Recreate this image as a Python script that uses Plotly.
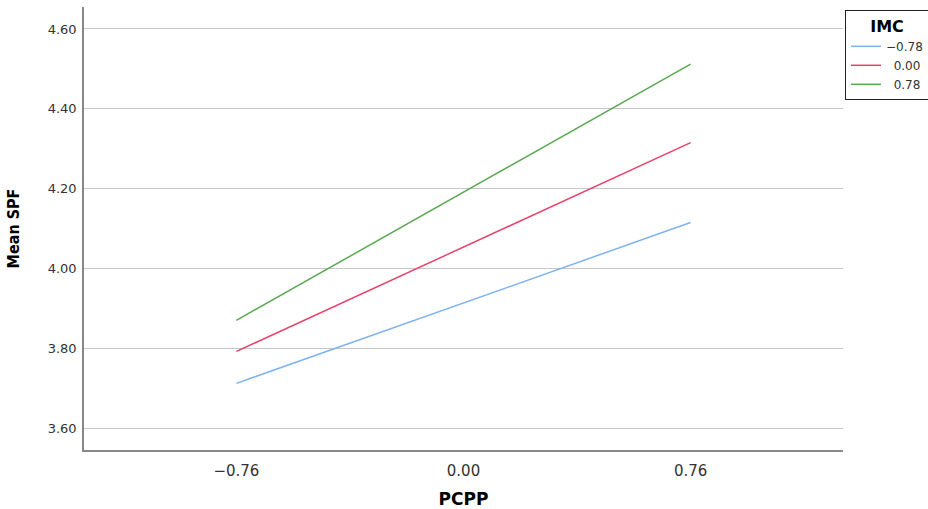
import plotly.graph_objects as go

pcpp = [-0.76, 0.76]
imc_labels = ["\u22120.78", "\u20070.00", "\u20070.78"]
spf_low = [3.712, 4.115]
spf_mid = [3.792, 4.315]
spf_high = [3.870, 4.512]
colors = ["#7eb3f0", "#e8416a", "#5aa852"]
x_ticks = [-0.76, 0.0, 0.76]
x_ticktext = ["\u22120.76", "0.00", "0.76"]
y_ticks = [3.6, 3.8, 4.0, 4.2, 4.4, 4.6]

series = [spf_low, spf_mid, spf_high]

fig = go.Figure()
for lab, vals, col in zip(imc_labels, series, colors):
    fig.add_trace(go.Scatter(x=pcpp, y=vals, mode="lines", name=lab,
                             line=dict(color=col, width=1.5)))

FONT = "DejaVu Sans, Liberation Sans, Arial, sans-serif"

fig.update_layout(
    width=928, height=509,
    margin=dict(l=84, r=85, t=7, b=59, autoexpand=False),
    plot_bgcolor="white", paper_bgcolor="white",
    showlegend=True,
    legend=dict(
        x=(845 - 84) / 759, y=(450 - 10) / 443, xanchor="left", yanchor="top",
        bordercolor="#222222", borderwidth=1,
        font=dict(family=FONT, size=12, color="#333333"),
        title=dict(text="<b>IMC</b>", side="top center",
                   font=dict(family=FONT, size=16, color="#000000")),
        tracegroupgap=0, itemwidth=30,
    ),
    xaxis=dict(
        range=[-1.27, 1.27],
        tickvals=x_ticks, ticktext=x_ticktext,
        showgrid=False, zeroline=False,
        showline=True, linecolor="#888888", linewidth=1.5,
        ticks="outside", ticklen=6, tickcolor="rgba(0,0,0,0)",
        tickfont=dict(family=FONT, size=15, color="#333333"),
        title=dict(text="<b>PCPP</b>", font=dict(family=FONT, size=17, color="#000000"), standoff=14),
    ),
    yaxis=dict(
        range=[3.545, 4.655],
        tickvals=y_ticks,
        tickformat=".2f",
        showgrid=True, gridcolor="#c8c8c8", gridwidth=1.2,
        zeroline=False,
        showline=True, linecolor="#888888", linewidth=1.5,
        ticks="outside", ticklen=3, tickcolor="rgba(0,0,0,0)",
        tickfont=dict(family=FONT, size=13, color="#333333"),
        title=dict(text="<b>Mean SPF</b>",
                   font=dict(family="DejaVu Sans Condensed, Liberation Sans Narrow, Liberation Sans, sans-serif",
                             size=16, color="#000000"),
                   standoff=24),
    ),
)

fig.write_html("out.html", config={"displayModeBar": False},
               post_script="document.body.style.margin='0';")
